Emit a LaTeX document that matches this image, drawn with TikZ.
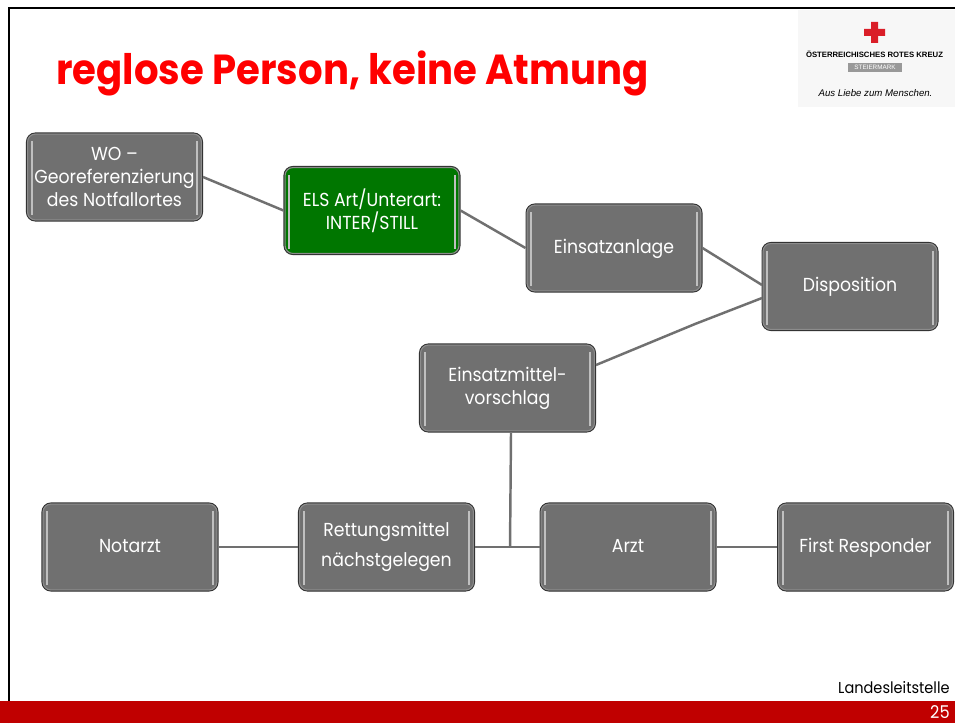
\documentclass[tikz,border=0pt]{standalone}
\usepackage{fontspec}
\setmainfont{Poppins}[FakeStretch=0.92]
\newfontfamily\logofont{Liberation Sans}
\definecolor{boxgray}{RGB}{112,112,112}
\definecolor{boxgreen}{RGB}{0,118,0}
\definecolor{linegray}{RGB}{112,112,112}
\definecolor{barred}{RGB}{192,0,0}
\definecolor{crossred}{RGB}{218,30,40}
\tikzset{
  stepbox/.style={draw=black!80, line width=0.6pt, fill=boxgray, rounded corners=5pt, minimum width=3.52cm, minimum height=1.76cm, align=center, text=white, font=\fontsize{10.7}{13.2}\selectfont, inner sep=0pt},
  greenbox/.style={stepbox, fill=boxgreen},
  oneline/.style={text height=8pt, text depth=2pt},
  link/.style={draw=linegray, line width=1.4pt}
}

\begin{document}
\begin{tikzpicture}[x=0.02cm,y=-0.02cm]
    \useasboundingbox (0,0) rectangle (955,723);
    \fill[white] (0,0) rectangle (955,723);
    \draw[line width=1.6pt] (9,723) -- (9,8) -- (955,8);                % frame
    \fill[barred] (0,701) rectangle (955,723);                           % bar
    \fill[black!3] (798,10) rectangle (955,107);                         % logo
    \fill[crossred] (871,22) rectangle (878,43) (864,29) rectangle (885,36);
    \node[font=\logofont\bfseries\fontsize{4.4}{5}\selectfont](logotxt) at (874.5,54)  {ÖSTERREICHISCHES ROTES KREUZ};
    \node[fill=black!40,text=white,minimum width=1.08cm,minimum height=0.18cm,inner sep=0pt,font=\logofont\fontsize{3.6}{4}\selectfont](logosub) at (875,67.5)  {STEIERMARK};
    \node[font=\logofont\itshape\fontsize{5.5}{6}\selectfont](logomotto) at (875.5,93)  {Aus Liebe zum Menschen.};
    \node[anchor=west,inner sep=0pt,text=red,font=\bfseries\fontsize{23.9}{28}\selectfont](title) at (56,73)  {reglose Person, keine Atmung};
    % boxes
    \node[stepbox](wo) at (114.5,177)  {WO --\\Georeferenzierung\\des Notfallortes};
    \node[greenbox](els) at (372,210.5)  {ELS Art/Unterart:\\INTER/STILL};
    \node[stepbox,oneline](anlage) at (614,248)  {Einsatzanlage};
    \node[stepbox,oneline](dispo) at (850,286.5)  {Disposition};
    \node[stepbox](vorschlag) at (507.5,388)  {Einsatzmittel-\\vorschlag};
    \node[stepbox,oneline](notarzt) at (130,547)  {Notarzt};
    \node[stepbox,font=\fontsize{10.7}{17.3}\selectfont](rett) at (386.5,547)  {Rettungsmittel\\nächstgelegen};
    \node[stepbox,oneline](arzt) at (628,547)  {Arzt};
    \node[stepbox,oneline](first) at (865.5,547)  {First Responder};
    % light edges of the boxes
    \foreach \n in {wo,els,anlage,dispo,vorschlag,notarzt,rett,arzt,first}{
        \draw[black!45,line width=0.6pt,rounded corners=4.5pt] ([shift={(0.9pt,-0.9pt)}]\n.north west) rectangle ([shift={(-0.9pt,0.9pt)}]\n.south east);
        \draw[black!25,line width=1.1pt] ([shift={(3.2pt,-5pt)}]\n.north west) -- ([shift={(3.2pt,3.5pt)}]\n.south west);
        \draw[black!25,line width=1.1pt] ([shift={(-3.2pt,-5pt)}]\n.north east) -- ([shift={(-3.2pt,3.5pt)}]\n.south east);
    }
    % links
    \coordinate (junction) at (510,547);
    \coordinate (knick) at (695,324);
    \coordinate (dispoA) at (762,285);
    \coordinate (dispoB) at (762,298);
    \coordinate (vorschlagA) at (596,365);
    \coordinate (vorschlagB) at (511,433);
    \draw[link] (wo.east) -- (els.west);
    \draw[link] (els.east) -- (anlage.west);
    \draw[link] (anlage.east) -- (dispoA);
    \draw[link] (vorschlagA) -- (knick) -- (dispoB);
    \draw[link] (vorschlagB) -- (junction);
    \draw[link] (notarzt) -- (rett);
    \draw[link] (rett) -- (arzt);
    \draw[link] (arzt) -- (first);
    \node[anchor=east,inner sep=0pt,font=\fontsize{9}{11}\selectfont](llst) at (950,688)  {Landesleitstelle};
    \node[anchor=east,inner sep=0pt,text=white,font=\fontsize{10}{11}\selectfont](page) at (950,712.5)  {25};
\end{tikzpicture}
\end{document}
